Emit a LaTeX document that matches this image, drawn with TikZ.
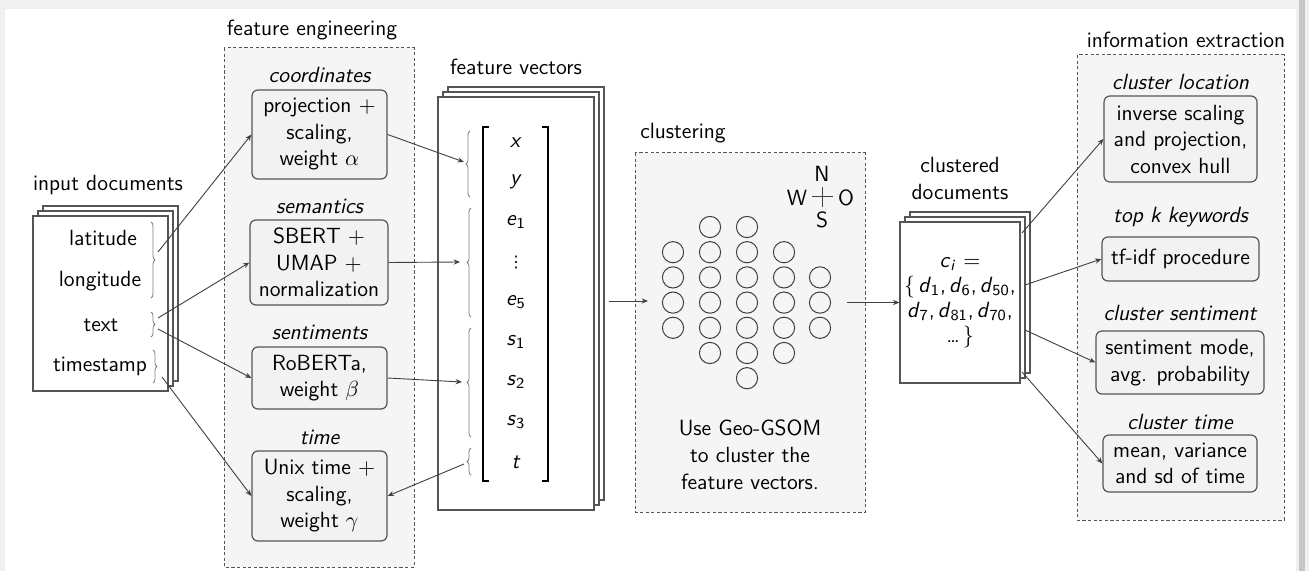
\documentclass[tikz,border=0pt]{standalone}
\usepackage{fontspec}
\newfontfamily\djv{DejaVu Sans}
\usetikzlibrary{arrows.meta,decorations.pathreplacing}
\definecolor{ln}{HTML}{404040}
\definecolor{bx}{HTML}{555555}
\definecolor{cfill}{HTML}{F5F5F5}
\definecolor{bfill}{HTML}{F2F2F2}
\newcommand\sv[2]{\textit{#1}\textsubscript{#2}}
\newcommand\dsp{\hspace{0.14em}}
\begin{document}
\begin{tikzpicture}[x=0.5pt,y=-0.5pt,
 every node/.style={font=\sffamily\fontsize{11}{13.25}\selectfont, inner sep=0pt},
 lab/.style={font=\sffamily\itshape\fontsize{11}{13.25}\selectfont},
 sz/.style 2 args={minimum width=#1*0.5pt, minimum height=#2*0.5pt},
 container/.style={draw=bx, dash pattern=on 1.6pt off 1.2pt, fill=cfill, line width=0.5pt},
 ibox/.style={draw=bx, rounded corners=3pt, fill=bfill, line width=0.6pt, align=center},
 paper/.style={draw=bx, fill=white, line width=0.6pt},
 conn/.style={draw=ln, line width=0.45pt, -{Stealth[length=3.2pt,width=2.6pt]}},
 brc/.style={draw=gray, line width=0.4pt, decorate, decoration={brace, amplitude=2pt}},
 cell/.style={draw=ln, line width=0.5pt},
 brk/.style={draw=black, line width=0.8pt},
]
\useasboundingbox (0,0) rectangle (1309,571);
% background
\fill[gray!12] (0,0) rectangle (1309,571);
\fill[white] (5,9) rectangle (1296,571);
\fill[gray!45] (1299,0) rectangle (1305,571);

% ---------- input documents ----------
\node (tin) at (108,185) {input documents};
\draw[paper] (43,206) rectangle (178,381);
\draw[paper] (38,211) rectangle (173,386);
\node[paper, sz={135}{175}] (inp) at (100.5,303.5) {};
\node (lat) at (103,238) {latitude};
\node (lon) at (100,281) {longitude};
\node (txt) at (101,325) {text};
\node (tst) at (100,366) {timestamp};
\draw[brc] (151,222) -- (151,298);
\draw[brc] (151,312) -- (151,337);
\draw[brc] (153,350) -- (153,383);
\coordinate (ib1) at (158,252);
\coordinate (ib2) at (158,318);
\coordinate (ib3) at (158,329);
\coordinate (ib4) at (162,377);

% ---------- feature engineering ----------
\node (tfe) at (312,30) {feature engineering};
\draw[container] (224,48) rectangle (414,567);
\node[lab] (lco) at (319.5,75) {coordinates};
\node[ibox, sz={135}{89}] (co) at (319.5,134.5) {projection $+$\\ scaling,\\ weight $\alpha$};
\node[lab] (lse) at (319.5,206) {semantics};
\node[ibox, sz={138}{85}] (se) at (319,262.5) {SBERT $+$\\ UMAP $+$\\ normalization};
\node[lab] (lsn) at (319.5,332) {sentiments};
\node[ibox, sz={135}{62}] (sn) at (319.5,378) {RoBERTa,\\ weight $\beta$};
\node[lab] (lti) at (319.5,437) {time};
\node[ibox, sz={135}{90}] (ti) at (319.5,496) {Unix time $+$\\ scaling,\\ weight $\gamma$};

% ---------- feature vectors ----------
\node (tfv) at (516,67) {feature vectors};
\draw[paper] (448,87) rectangle (604,500);
\draw[paper] (443,92) rectangle (599,505);
\node[paper, sz={156}{413}] (fv) at (516,303.5) {};
\draw[brk] (489,127) -- (483,127) -- (483,481) -- (489,481);
\draw[brk] (542,127) -- (548,127) -- (548,481) -- (542,481);
\node (vx) at (516,143) {\textit{x}};
\node (vy) at (516,182) {\textit{y}};
\node (ve1) at (516,222) {\sv{e}{1}};
\node (vd) at (516,263) {\djv\fontsize{8}{8}\selectfont ⋮};
\node (ve5) at (516,302) {\sv{e}{5}};
\node (vs1) at (516,342) {\sv{s}{1}};
\node (vs2) at (516,382) {\sv{s}{2}};
\node (vs3) at (516,422) {\sv{s}{3}};
\node (vt) at (516,462) {\textit{t}};
\draw[brc] (470,197) -- (470,131);
\draw[brc] (471,317) -- (471,208);
\draw[brc] (471,437) -- (471,328);
\draw[brc] (471,475) -- (471,448);
\coordinate (vb1) at (464,162);
\coordinate (vb2) at (460,262);
\coordinate (vb3) at (462,382);
\coordinate (vb4) at (464,464);

\draw[conn] (ib1) -- (co.west);
\draw[conn] (ib2) -- (se.west);
\draw[conn] (ib3) -- (sn.west);
\draw[conn] (ib4) -- (ti.west);
\draw[conn] (co.east) -- (vb1);
\draw[conn] (se.east) -- (vb2);
\draw[conn] (sn.east) -- (vb3);
\draw[conn] (vb4) -- (ti.east);

% ---------- clustering ----------
\node (tcl) at (683,133) {clustering};
\draw[container] (635,153) rectangle (865,512);
\node (cN) at (822,174) {N};
\node (cS) at (822,220) {S};
\node (cW) at (797,198) {W};
\node (cO) at (846,198) {O};
\draw[ln, line width=0.5pt] (812,197) -- (833,197);
\draw[ln, line width=0.5pt] (822,187) -- (822,207);
\foreach \cx/\ra/\rb in {673/1/4, 710/0/5, 747/0/6, 784/1/5, 820/2/4}
  \foreach \r in {\ra,...,\rb}
    \draw[cell] (\cx,{227+25.2*\r}) circle[radius=5.3pt];
\node[align=center, font=\sffamily\fontsize{11}{13.5}\selectfont] (cltxt) at (750,455) {Use Geo-GSOM\\ to cluster the\\ feature vectors.};
\coordinate (fvo) at (609,301);
\coordinate (gin) at (648,301);
\draw[conn] (fvo) -- (gin);

% ---------- clustered documents ----------
\node[align=center, font=\sffamily\fontsize{11}{13.5}\selectfont] (tcd) at (960,178) {clustered\\ documents};
\draw[paper] (910,212) rectangle (1030,373);
\draw[paper] (905,217) rectangle (1025,378);
\node[paper, sz={120}{161}, align=center, font=\sffamily\fontsize{11}{12.5}\selectfont] (cd) at (960,302.5)
  {\textit{c}\textsubscript{\textit{i}} $=$\\ $\{$\dsp\sv{d}{1},\dsp\sv{d}{6},\dsp\sv{d}{50},\\ \sv{d}{7},\dsp\sv{d}{81},\dsp\sv{d}{70},\\ \dots\dsp$\}$};
\coordinate (gout) at (847,302.5);
\draw[conn] (gout) -- (cd.west);

% ---------- information extraction ----------
\node (tie) at (1186,40) {information extraction};
\draw[container] (1077,55) rectangle (1284,520);
\node[lab] (lL) at (1180.5,82) {cluster location};
\node[ibox, sz={153}{86}] (L) at (1180.5,139) {inverse scaling\\ and projection,\\ convex hull};
\node[lab] (lK) at (1180.5,217) {top \textit{k} keywords};
\node[ibox, sz={157}{44}] (K) at (1180.5,259) {tf-idf procedure};
\node[lab] (lS) at (1180,313) {cluster sentiment};
\node[ibox, sz={168}{63}] (S) at (1180,362.5) {sentiment mode,\\ avg. probability};
\node[lab] (lT) at (1180,422) {cluster time};
\node[ibox, sz={154}{57}] (T) at (1180,463.5) {mean, variance\\ and sd of time};
\coordinate (co1) at (1022,233);
\coordinate (co2) at (1025,285);
\coordinate (co3) at (1025,330);
\coordinate (co4) at (1022,372);
\draw[conn] (co1) -- (L.west);
\draw[conn] (co2) -- (K.west);
\draw[conn] (co3) -- (S.west);
\draw[conn] (co4) -- (T.west);
\end{tikzpicture}
\end{document}
